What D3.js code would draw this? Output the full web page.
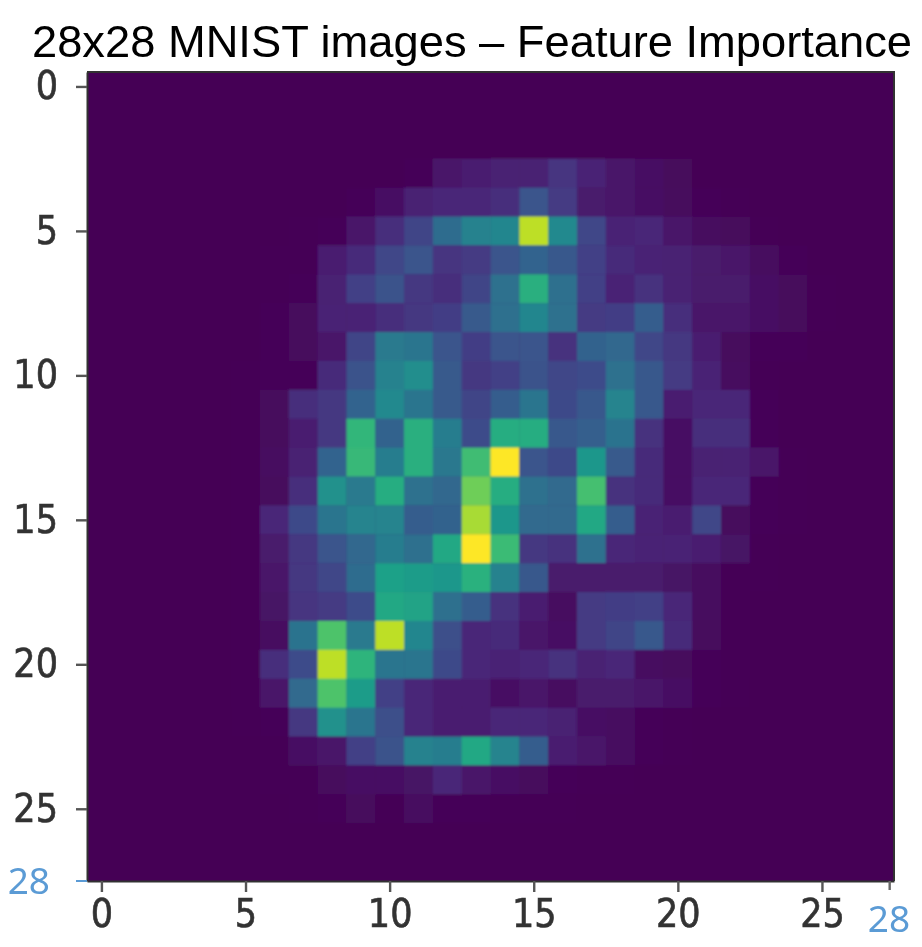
<!DOCTYPE html>
<html><head><meta charset="utf-8">
<script src="https://d3js.org/d3.v7.min.js"></script>
<style>html,body{margin:0;padding:0;background:#fff}svg{display:block}</style>
</head><body><svg id="c" width="922" height="947"></svg>
<script>
const titleText = "28x28 MNIST images – Feature Importance";
const tickValues = [0,5,10,15,20,25];
const extraLeftTick = [{v:27.5,label:"28"}];
const extraBottomTick = [{v:27.35,label:"28"}];
const importance = [
[0,0,0,0,0,0,0,0,0,0,0,0,0,0,0,0,0,0,0,0,0,0,0,0,0,0,0,0],
[0,0,0,0,0,0,0,0,0,0,0,0,0,0,0,0,0,0,0,0,0,0,0,0,0,0,0,0],
[0,0,0,0,0,0,0,0,0,0,0,0,0,0,0,0,0,0,0,0,0,0,0,0,0,0,0,0],
[0,0,0,0,0,0,0,0,0,0,0,1.5,6,8,9,9,15,10,6,4,2,0.3,0,0,0,0,0,0],
[0,0,0,0,0,0,0,0,0,1.5,4,9,11,11,13,26,17,7,6,4,2.5,1.5,0.4,0,0,0,0,0],
[0,0,0,0,0,0,0,0.4,1.5,6,13,20,35,44,46,90,47,21,10,11,6,3,2,0.5,0.3,0,0,0],
[0,0,0,0,0,0,0.4,1,8,12,21,26,15,17,26,32,27,19,12,10,9,7,6,3,1.5,0.3,0,0],
[0,0,0,0,0,0.2,0.5,1.5,9,19,25,16,13,20,37,63,36,19,10,14,9,7,7,4,2,0.4,0,0],
[0,0,0,0,0,0.3,1.5,2.5,10,10,13,16,18,28,36,46,37,17,18,29,13,6,6,4,2,0.4,0,0],
[0,0,0,0,0,0.3,1.5,2.5,6,20,41,39,26,18,26,26,14,31,33,21,16,8,2.5,1.5,1.2,0.3,0,0],
[0,0,0,0,0.2,0.8,1.5,1.5,12,25,44,49,28,16,19,25,21,23,37,27,17,10,3,1,0,0,0,0],
[0,0,0,0,0.2,0.8,2.5,13,16,32,47,39,28,20,29,39,22,27,45,27,8,11,11,1.5,0,0,0,0],
[0,0,0,0,0.3,1,2.5,8,16,66,31,63,42,23,62,62,27,30,38,14,4,13,13,1.5,0,0,0,0],
[0,0,0,0,0.3,1,3.5,9,32,67,42,63,40,69,100,26,22,53,28,12,4,9,9,6,0.4,0,0,0],
[0,0,0,0,0.3,1,2.5,13,50,41,62,37,33,78,62,37,34,70,14,12,4,11,11,1.5,0.4,0,0,0],
[0,0,0,0,0.3,1,11,22,39,45,45,29,31,87,53,34,34,60,29,10,8,21,2.5,1.5,0.4,0,0,0],
[0,0,0,0,0.2,1,7,16,26,33,42,36,60,100,68,16,14,37,11,10,10,8,5,1,0.3,0,0,0],
[0,0,0,0,0,1,6,16,21,35,57,55,53,64,44,27,7,7,7,7,5,3,1,0.4,0,0,0,0],
[0,0,0,0,0,1,5,15,17,23,60,58,36,29,14,8,3.5,17,18,19,11,3,1,0.3,0,0,0,0],
[0,0,0,0,0.2,1,3.5,38,72,41,90,46,24,11,12,6,4.5,17,20,27,12,2.5,1,0.3,0,0,0,0],
[0,0,0,0,0.2,1,13,23,90,65,39,39,22,11,10,11,14,9,11,3.5,2.5,1.5,1,0.3,0,0,0,0],
[0,0,0,0,0.3,1,6,34,72,55,19,11,8,8,4.5,6,3.5,7,7,6,4.5,1.5,0.4,0,0,0,0,0],
[0,0,0,0,0,0.4,1.5,16,50,39,24,11,8,8,11,11,9,4.5,3.5,1.5,1,0.3,0,0,0,0,0,0],
[0,0,0,0,0,0.3,1,4.5,6,19,25,44,42,60,45,29,8,6,3.5,1.5,0.4,0,0,0,0,0,0,0],
[0,0,0,0,0,0,0.4,1,2.5,4.5,4.5,5,11,6,4.5,2.5,1.5,1,0.4,0,0,0,0,0,0,0,0,0],
[0,0,0,0,0,0,0,0.4,1.5,2.5,1,3.5,1.5,1.5,0.4,0.4,0.4,0,0,0,0,0,0,0,0,0,0,0],
[0,0,0,0,0,0,0,0,0,0,0,0,0,0,0,0,0,0,0,0,0,0,0,0,0,0,0,0],
[0,0,0,0,0,0,0,0,0,0,0,0,0,0,0,0,0,0,0,0,0,0,0,0,0,0,0,0]
];

const L=87,R=894,T=72,B=881;
const x=d3.scaleLinear().domain([-0.5,27.5]).range([L,R]);
const y=d3.scaleLinear().domain([-0.5,27.5]).range([T,B]);
const color=d3.scaleSequential(d3.interpolateViridis).domain([0,100]);
const svg=d3.select("#c");
const defs=svg.append("defs");
defs.append("filter").attr("id","b1").attr("x","-2%").attr("y","-2%").attr("width","104%").attr("height","104%")
  .append("feGaussianBlur").attr("stdDeviation",1);
defs.append("filter").attr("id","b2").attr("x","-20%").attr("y","-20%").attr("width","140%").attr("height","140%")
  .append("feGaussianBlur").attr("stdDeviation",0.7);

const clip=defs.append("clipPath").attr("id","plot");
clip.append("rect").attr("x",L).attr("y",T).attr("width",R-L).attr("height",B-T);
const hm=svg.append("g").attr("clip-path","url(#plot)").append("g").attr("filter","url(#b1)");
hm.append("rect").attr("x",L-5).attr("y",T-5).attr("width",R-L+10).attr("height",B-T+10).attr("fill",color(0));
importance.forEach((row,r)=>{
  hm.selectAll(null).data(row).enter().append("rect")
    .attr("x",(d,c)=>x(c-0.5)).attr("y",y(r-0.5))
    .attr("width",x(1)-x(0)+0.4).attr("height",y(1)-y(0)+0.4)
    .attr("fill",d=>color(d));
});

const styleAxis=g=>{
  g.attr("filter","url(#b2)");
  g.select(".domain").attr("stroke","#333").attr("stroke-width",2);
  g.selectAll(".tick line").attr("stroke","#555").attr("stroke-width",2.4);
  g.selectAll(".tick text").attr("fill","#333").attr("stroke","#333").attr("stroke-width",0.6)
   .style("font-family","'DejaVu Sans Condensed','DejaVu Sans',sans-serif")
   .style("font-stretch","condensed").style("font-size","39px");
};
const axL=svg.append("g").attr("transform",`translate(${L},0)`)
  .call(d3.axisLeft(y).tickValues(tickValues).tickFormat(d3.format("d")).tickSize(11).tickSizeOuter(0).tickPadding(18)).call(styleAxis);
const axB=svg.append("g").attr("transform",`translate(0,${B})`)
  .call(d3.axisBottom(x).tickValues(tickValues).tickFormat(d3.format("d")).tickSize(11).tickSizeOuter(0).tickPadding(7)).call(styleAxis);

// top and right spines
svg.append("path").attr("d",d3.line()([[L,T],[R,T],[R,B]])).attr("fill","none").attr("stroke","#333").attr("stroke-width",2).attr("filter","url(#b2)");

// blue annotations
const blue="#5B9BD5";
const lt=svg.append("g").selectAll("g").data(extraLeftTick).enter().append("g");
lt.append("line").attr("x1",L-11).attr("x2",L).attr("y1",d=>y(d.v)).attr("y2",d=>y(d.v)).attr("stroke",blue).attr("stroke-width",2);
lt.append("text").attr("x",50).attr("y",d=>y(d.v)).attr("dy","0.36em").attr("text-anchor","end")
  .attr("fill",blue).style("font-family","'Noto Sans'").style("font-size","37px").text(d=>d.label);
const bt=svg.append("g").selectAll("g").data(extraBottomTick).enter().append("g");
bt.append("line").attr("x1",d=>x(d.v)).attr("x2",d=>x(d.v)).attr("y1",B).attr("y2",B+9).attr("stroke","#666").attr("stroke-width",2.4);
bt.append("text").attr("x",889).attr("y",932).attr("text-anchor","middle")
  .attr("fill",blue).style("font-family","'Noto Sans'").style("font-size","37px").text(d=>d.label);

svg.append("text").attr("x",32).attr("y",57).attr("textLength",880).attr("lengthAdjust","spacingAndGlyphs")
  .attr("fill","#000").style("font-family","'Liberation Sans'").style("font-size","44px").text(titleText);
</script></body></html>
